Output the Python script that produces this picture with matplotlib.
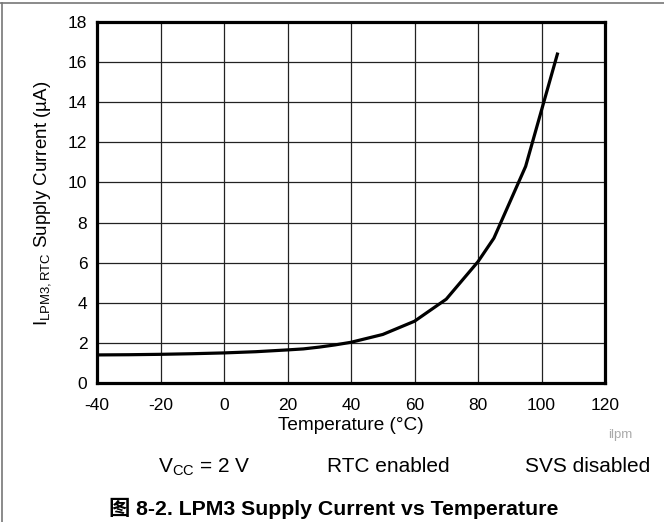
import numpy as np
import matplotlib
matplotlib.use('Agg')
import matplotlib.pyplot as plt
from matplotlib.lines import Line2D

plt.rcParams['font.family'] = ['Liberation Sans', 'Noto Sans CJK SC', 'DejaVu Sans']
plt.rcParams['mathtext.fontset'] = 'custom'
plt.rcParams['mathtext.rm'] = 'Liberation Sans'
plt.rcParams['mathtext.it'] = 'Liberation Sans:italic'
plt.rcParams['axes.unicode_minus'] = False

# dados
temperatura = [-40, -30, -20, -10, 0, 10, 20, 25, 30, 35, 40, 50, 60, 70, 80, 85, 95, 105]
corrente = [1.40, 1.41, 1.43, 1.46, 1.50, 1.56, 1.65, 1.70, 1.79, 1.90, 2.03,
            2.42, 3.08, 4.18, 6.05, 7.22, 10.8, 16.4]

x_ticks = [-40, -20, 0, 20, 40, 60, 80, 100, 120]
y_ticks = [0, 2, 4, 6, 8, 10, 12, 14, 16, 18]

condicoes = [r'$\mathregular{V_{CC}}$ = 2 V', 'RTC enabled', 'SVS disabled']
cond_x = [204, 388, 588]

titulo = '图 8-2. LPM3 Supply Current vs Temperature'

dpi = 100
W, H = 664, 522


def gera_figura():
    fig = plt.figure(figsize=(W / dpi, H / dpi), dpi=dpi)
    ax = fig.add_axes([97 / W, 1 - 383 / H, 508 / W, 361 / H])

    ax.plot(temperatura, corrente, color='black', lw=2.3, solid_joinstyle='miter', zorder=3)
    ax.set_xlim(-40, 120)
    ax.set_ylim(0, 18)
    ax.set_xticks(x_ticks)
    ax.set_yticks(y_ticks)
    ax.grid(color='#222222', lw=0.9)
    ax.set_axisbelow(True)
    ax.tick_params(length=0, labelsize=12.5)
    ax.tick_params(axis='x', pad=11)
    ax.tick_params(axis='y', pad=7)
    for s in ax.spines.values():
        s.set_linewidth(2.3)
        s.set_color('black')

    ax.set_xlabel('Temperature (°C)', fontsize=13.7, labelpad=3)
    fig.text(43 / W, 1 - 203 / H, r'$\mathregular{I_{LPM3,RTC}}$ Supply Current (µA)',
             rotation=90, ha='center', va='center', fontsize=13.5)

    fig.text(620 / W, 1 - 435 / H, 'ilpm', color='#aaaaaa', fontsize=9.5,
             ha='center', va='center')
    for txt, xc in zip(condicoes, cond_x):
        fig.text(xc / W, 1 - 467 / H, txt, fontsize=15, ha='center', va='center')
    fig.text(334 / W, 1 - 508 / H, titulo, fontsize=15.3, fontweight='bold',
             ha='center', va='center')

    # moldura cinza (topo e esquerda)
    fig.add_artist(Line2D([0, 1], [1 - 3 / H, 1 - 3 / H], transform=fig.transFigure,
                          color='#777777', lw=1.2))
    fig.add_artist(Line2D([1.5 / W, 1.5 / W], [0, 1 - 3 / H], transform=fig.transFigure,
                          color='#777777', lw=1.2))

    fig.savefig('out.png', dpi=dpi)


if __name__ == '__main__':
    gera_figura()
